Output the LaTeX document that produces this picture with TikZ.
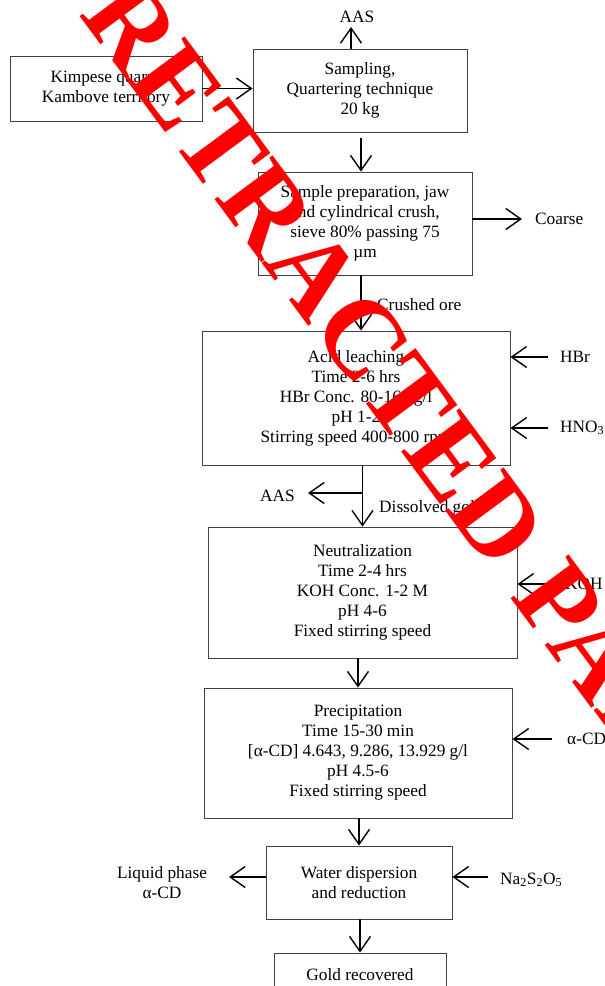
\documentclass[tikz,border=0pt]{standalone}
\usepackage{fontspec}
\setmainfont{Liberation Serif}
\usetikzlibrary{arrows.meta,positioning}
\tikzstyle{stage}=[draw=black!75,line width=0.9pt,align=center,inner sep=0pt]
\tikzstyle{feed}=[inner sep=0pt,align=center]
\tikzstyle{flow}=[line width=1.4pt,-{Straight Barb[length=15pt,width=21pt]}]
\tikzstyle{retracted}=[text=red,inner sep=0pt,font=\fontsize{111}{111}\selectfont\bfseries]

\begin{document}
\begin{tikzpicture}[x=1pt,y=-1pt,font=\fontsize{17.3}{20}\selectfont]
  \clip (0,0) rectangle (605,986);
  % process steps
  \node [stage,minimum width=192pt,minimum height=65pt] (quarry) at (106,88.5)
    {Kimpese quarry\\Kambove territory};
  \node [stage,minimum width=214pt,minimum height=83pt] (sampling) at (360,90.5)
    {Sampling,\\Quartering technique\\20 kg};
  \node [stage,minimum width=214pt,minimum height=103pt] (prep) at (365,223.5)
    {Sample preparation, jaw\\and cylindrical crush,\\sieve 80\% passing 75\\µm};
  \node [stage,minimum width=308pt,minimum height=134pt] (leach) at (356,398)
    {Acid leaching\\Time 2-6 hrs\\HBr Conc. 80-160 g/l\\pH 1-2\\Stirring speed 400-800 rpm};
  \node [stage,minimum width=309pt,minimum height=131pt] (neutral) at (362.5,592.5)
    {Neutralization\\Time 2-4 hrs\\KOH Conc. 1-2 M\\pH 4-6\\Fixed stirring speed};
  \node [stage,minimum width=308pt,minimum height=130pt] (precip) at (358,753)
    {Precipitation\\Time 15-30 min\\{}[α-CD] 4.643, 9.286, 13.929 g/l\hspace*{47pt}\\pH 4.5-6\\Fixed stirring speed};
  \node [stage,minimum width=186pt,minimum height=73pt] (water) at (359,882.5)
    {Water dispersion\\and reduction};
  \node [stage,minimum width=172pt,minimum height=44pt] (gold) at (360,975)
    {Gold recovered};

  % inputs and outputs
  \node [feed] (aastop) at (357,17) {AAS};
  \node [feed,anchor=west] (coarse) at (535,219) {Coarse};
  \node [feed,anchor=west] (crushed) at (377,305) {Crushed ore};
  \node [feed,anchor=west] (hbr) at (560,357) {HBr};
  \node [feed,anchor=west] (hno) at (560,428) {HNO\textsubscript{3}};
  \node [feed,anchor=east] (aasmid) at (295,496) {AAS};
  \node [feed,anchor=west] (dissolved) at (379,508) {Dissolved gold};
  \node [feed,anchor=west] (koh) at (565,584) {KOH};
  \node [feed,anchor=west] (acd) at (567,739) {α-CD};
  \node [feed] (liquid) at (162,883) {Liquid phase\\α-CD};
  \node [feed,anchor=west] (sulfite) at (500,880) {Na\textsubscript{2}S\textsubscript{2}O\textsubscript{5}};

  \coordinate (aasup) at (351,27);
  \coordinate (coarseout) at (522,219);
  \coordinate (hbrin) at (548,357);
  \coordinate (hnoin) at (548,428);
  \coordinate (aasout) at (308,493);
  \coordinate (kohin) at (553,584);
  \coordinate (acdin) at (552,739);
  \coordinate (liquidout) at (229,877);
  \coordinate (sulfitein) at (488,877);

  % connectors
  \draw [flow] (quarry.east) -- (quarry.east -| sampling.west);
  \draw [flow] (sampling.north -| aasup) -- (aasup);
  \draw [flow] ([xshift=1pt,yshift=-6pt]sampling.south) -- ([xshift=1pt]sampling.south |- prep.north);
  \draw [flow] (prep.east |- coarseout) -- (coarseout);
  \draw [flow] ([xshift=-4pt]prep.south) -- ([xshift=-4pt]prep.south |- leach.north);
  \draw [flow] (hbrin) -- (hbrin -| leach.east);
  \draw [flow] (hnoin) -- (hnoin -| leach.east);
  \draw [flow] (leach.south -| neutral.north) -- (neutral.north);
  \draw [flow] (aasout -| neutral.north) -- (aasout);
  \draw [flow] (kohin) -- (kohin -| neutral.east);
  \draw [flow] (neutral.south -| precip.north) -- (precip.north);
  \draw [flow] (acdin) -- (acdin -| precip.east);
  \draw [flow] (precip.south -| water.north) -- (water.north);
  \draw [flow] (water.west |- liquidout) -- (liquidout);
  \draw [flow] (sulfitein) -- (sulfitein -| water.east);
  \draw [flow] (water.south -| gold.north) -- (gold.north);

  % stamp
  \node [retracted,rotate=-53.5,anchor=base west] (stamp) at (78,14) {RETRACTED PAPER};
\end{tikzpicture}
\end{document}
